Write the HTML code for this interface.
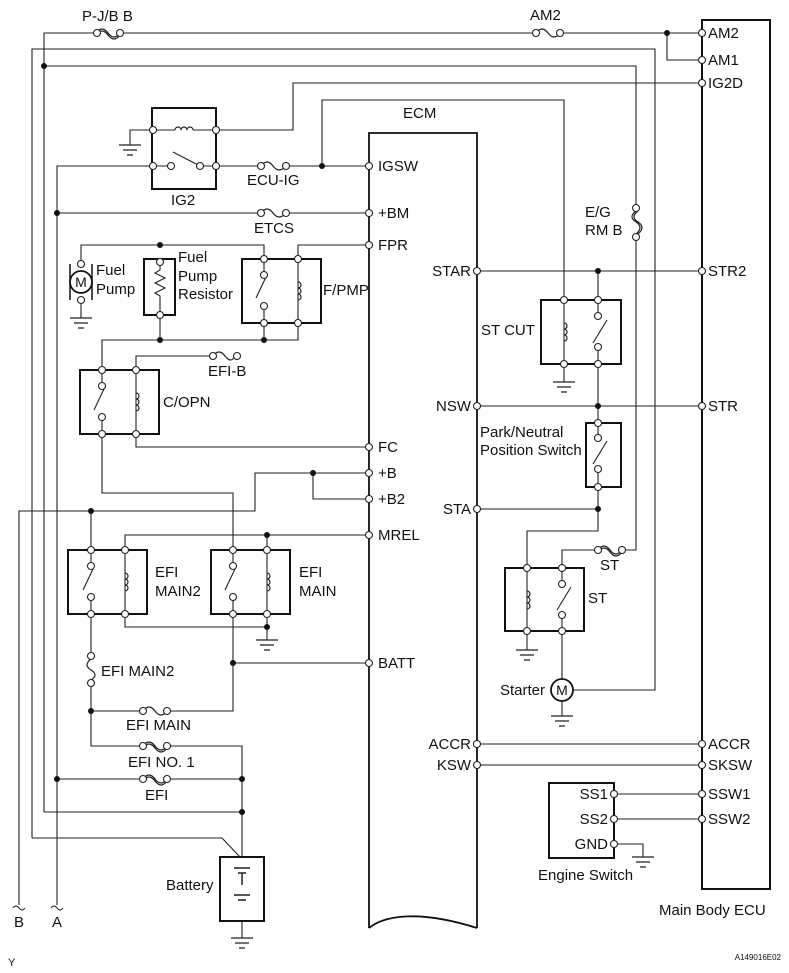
<!DOCTYPE html>
<html><head><meta charset="utf-8"><style>
html,body{margin:0;padding:0;background:#fff}
svg{display:block}
text{font-family:"Liberation Sans",sans-serif;font-size:15px;fill:#111}
</style></head><body>
<svg width="789" height="973" viewBox="0 0 789 973" xmlns="http://www.w3.org/2000/svg">
<g fill="none" stroke="#222" stroke-width="1.1">
<path d="M44 812 V33 H93 M123 33 H533 M563 33 H702"/>
<path d="M667 33 V60 H702"/>
<path d="M32 838 V49 H655 V690 H572"/>
<path d="M44 66 H636 V208 M636 237 V550 H625 M595 550 H562 V568"/>
<path d="M216 130 H293 V83 H702"/>
<path d="M322 166 V100 H564 V300"/>
<path d="M153 130 H175 M193 130 H216"/>
<path d="M153 130 H130 V145"/>
<path d="M57 905 V166 H153 M153 166 H171 M173 152 L200 166 M200 166 H216 H258 M289 166 H369"/>
<path d="M57 213 H258 M289 213 H369"/>
<path d="M81 264 V245 H264 V259"/>
<path d="M81 300 V318"/>
<path d="M160 262 V270 l-5 3 l10 5 l-10 5 l10 5 l-10 5 l5 3 V340"/>
<path d="M298 259 V245 H369"/>
<path d="M264 259 V275 M264 306 V323 M256 298 L266 277"/>
<path d="M298 259 V323"/>
<path d="M264 323 V340 M298 323 V340 H102 V370"/>
<path d="M136 370 V356 H210"/>
<path d="M136 370 V434 V447 H369"/>
<path d="M102 370 V386 M102 417 V434 M94 410 L104 389"/>
<path d="M102 434 V493 H233 V550"/>
<path d="M19 905 V511 H255 V473 H369 M313 473 V499 H369"/>
<path d="M91 511 V550 M91 550 V566 M91 597 V614 M83 590 L93 569"/>
<path d="M125 550 V535 H369 M267 535 V550 M125 550 V614 V627 H267 M267 550 V627 V640"/>
<path d="M233 550 V566 M233 597 V614 M225 590 L235 569"/>
<path d="M91 614 V656 M91 683 V746 H140 M170 746 H242 V857"/>
<path d="M233 614 V711 H170 M140 711 H91"/>
<path d="M233 663 H369"/>
<path d="M57 779 H140 M170 779 H242"/>
<path d="M44 812 H242"/>
<path d="M32 838 H222 L240 857"/>
<path d="M242 921 V938"/>
<path d="M234 868 H250 M238 873 H246 M242 873 V885 M234 895 H250 M238 900 H246" stroke-width="1.5"/>
<path d="M477 271 H702 M598 271 V300"/>
<path d="M564 300 V364 V382"/>
<path d="M598 300 V316 M598 347 V364 M593 343 L607 320"/>
<path d="M598 364 V423 M477 406 H702"/>
<path d="M598 423 V438 M598 469 V487 M593 464 L607 441"/>
<path d="M598 487 V531 H527 V568 M477 509 H598"/>
<path d="M527 568 V631 V650"/>
<path d="M562 568 V584 M562 615 V631 M557 610 L571 587"/>
<path d="M562 631 V680 M562 700 V716"/>
<path d="M477 744 H702 M477 765 H702 M614 794 H702 M614 819 H702 M614 844 H643 V857"/>
</g>
<g fill="none" stroke="#111" stroke-width="2">
<rect x="152" y="108" width="64" height="81"/>
<rect x="144" y="259" width="31" height="56"/>
<rect x="242" y="259" width="79" height="64"/>
<rect x="80" y="370" width="79" height="64"/>
<rect x="68" y="550" width="79" height="64"/>
<rect x="211" y="550" width="79" height="64"/>
<rect x="220" y="857" width="44" height="64"/>
<rect x="541" y="300" width="80" height="64"/>
<rect x="586" y="423" width="35" height="64"/>
<rect x="505" y="568" width="79" height="63"/>
<rect x="549" y="783" width="65" height="75"/>
<rect x="702" y="20" width="68" height="869"/>
<path d="M369 928 V133 H477 V928 M369 928 C385 915 420 910 477 928" stroke-width="1.8"/>
<path d="M70 264 V300 M92 264 V300" stroke-width="1.5"/>
</g>
<g fill="none" stroke="#222" stroke-width="1.2">
<path d="M175 130 a3 3 0 0 1 6 0 a3 3 0 0 1 6 0 a3 3 0 0 1 6 0"/>
<path d="M298 282 a3 3 0 0 1 0 6 a3 3 0 0 1 0 6 a3 3 0 0 1 0 6"/>
<path d="M136 393 a3 3 0 0 1 0 6 a3 3 0 0 1 0 6 a3 3 0 0 1 0 6"/>
<path d="M125 573 a3 3 0 0 1 0 6 a3 3 0 0 1 0 6 a3 3 0 0 1 0 6"/>
<path d="M267 573 a3 3 0 0 1 0 6 a3 3 0 0 1 0 6 a3 3 0 0 1 0 6"/>
<path d="M564 323 a3 3 0 0 1 0 6 a3 3 0 0 1 0 6 a3 3 0 0 1 0 6"/>
<path d="M527 591 a3 3 0 0 1 0 6 a3 3 0 0 1 0 6 a3 3 0 0 1 0 6"/>
<path d="M96 33 Q102 25 108 33 T120 33 M96 35 Q102 27 108 35 T120 35"/>
<path d="M536 33 Q542 25 548 33 T560 33"/>
<path d="M261 166 Q267 158 273 166 T286 166"/>
<path d="M261 213 Q267 205 273 213 T286 213"/>
<path d="M213 356 Q219 348 225 356 T235 356"/>
<path d="M143 711 Q149 703 155 711 T167 711"/>
<path d="M143 746 Q149 738 155 746 T167 746 M143 748 Q149 740 155 748 T167 748"/>
<path d="M143 779 Q149 771 155 779 T167 779 M143 781 Q149 773 155 781 T167 781"/>
<path d="M91 659 Q83 665 91 670 T91 680"/>
<path d="M636 211 Q628 217 636 222 T636 234 M638 211 Q630 217 638 222 T638 234"/>
<path d="M598 550 Q604 542 610 550 T622 550 M598 552 Q604 544 610 552 T622 552"/>
</g>
<g stroke="#222" stroke-width="1.3">
<path d="M119 145 H141 M123 150 H137 M127 155 H133"/>
<path d="M70 318 H92 M74 323 H88 M78 328 H84"/>
<path d="M256 640 H278 M260 645 H274 M264 650 H270"/>
<path d="M231 938 H253 M235 943 H249 M239 948 H245"/>
<path d="M553 382 H575 M557 387 H571 M561 392 H567"/>
<path d="M516 650 H538 M520 655 H534 M524 660 H530"/>
<path d="M551 716 H573 M555 721 H569 M559 726 H565"/>
<path d="M632 857 H654 M636 862 H650 M640 867 H646"/>
</g>
<circle cx="81" cy="282" r="11" fill="#fff" stroke="#111" stroke-width="1.8"/>
<circle cx="562" cy="690" r="11" fill="#fff" stroke="#111" stroke-width="1.8"/>
<text x="81" y="287" text-anchor="middle" style="font-size:14px">M</text>
<text x="562" y="695" text-anchor="middle" style="font-size:14px">M</text>
<g fill="#fff" stroke="#222" stroke-width="1.1">
<circle cx="97" cy="33" r="3.5"/><circle cx="120" cy="33" r="3.5"/>
<circle cx="536" cy="33" r="3.5"/><circle cx="560" cy="33" r="3.5"/>
<circle cx="261" cy="166" r="3.5"/><circle cx="286" cy="166" r="3.5"/>
<circle cx="261" cy="213" r="3.5"/><circle cx="286" cy="213" r="3.5"/>
<circle cx="213" cy="356" r="3.5"/><circle cx="237" cy="356" r="3.5"/>
<circle cx="143" cy="711" r="3.5"/><circle cx="167" cy="711" r="3.5"/>
<circle cx="143" cy="746" r="3.5"/><circle cx="167" cy="746" r="3.5"/>
<circle cx="143" cy="779" r="3.5"/><circle cx="167" cy="779" r="3.5"/>
<circle cx="91" cy="656" r="3.5"/><circle cx="91" cy="683" r="3.5"/>
<circle cx="636" cy="208" r="3.5"/><circle cx="636" cy="237" r="3.5"/>
<circle cx="598" cy="550" r="3.5"/><circle cx="622" cy="550" r="3.5"/>
<circle cx="153" cy="130" r="3.5"/><circle cx="216" cy="130" r="3.5"/>
<circle cx="153" cy="166" r="3.5"/><circle cx="171" cy="166" r="3.5"/><circle cx="200" cy="166" r="3.5"/><circle cx="216" cy="166" r="3.5"/>
<circle cx="81" cy="264" r="3.5"/><circle cx="81" cy="300" r="3.5"/>
<circle cx="160" cy="262" r="3.5"/><circle cx="160" cy="315" r="3.5"/>
<circle cx="264" cy="259" r="3.5"/><circle cx="298" cy="259" r="3.5"/><circle cx="264" cy="275" r="3.5"/><circle cx="264" cy="306" r="3.5"/><circle cx="264" cy="323" r="3.5"/><circle cx="298" cy="323" r="3.5"/>
<circle cx="102" cy="370" r="3.5"/><circle cx="136" cy="370" r="3.5"/><circle cx="102" cy="386" r="3.5"/><circle cx="102" cy="417" r="3.5"/><circle cx="102" cy="434" r="3.5"/><circle cx="136" cy="434" r="3.5"/>
<circle cx="91" cy="550" r="3.5"/><circle cx="125" cy="550" r="3.5"/><circle cx="91" cy="566" r="3.5"/><circle cx="91" cy="597" r="3.5"/><circle cx="91" cy="614" r="3.5"/><circle cx="125" cy="614" r="3.5"/>
<circle cx="233" cy="550" r="3.5"/><circle cx="267" cy="550" r="3.5"/><circle cx="233" cy="566" r="3.5"/><circle cx="233" cy="597" r="3.5"/><circle cx="233" cy="614" r="3.5"/><circle cx="267" cy="614" r="3.5"/>
<circle cx="564" cy="300" r="3.5"/><circle cx="598" cy="300" r="3.5"/><circle cx="598" cy="316" r="3.5"/><circle cx="598" cy="347" r="3.5"/><circle cx="564" cy="364" r="3.5"/><circle cx="598" cy="364" r="3.5"/>
<circle cx="598" cy="423" r="3.5"/><circle cx="598" cy="438" r="3.5"/><circle cx="598" cy="469" r="3.5"/><circle cx="598" cy="487" r="3.5"/>
<circle cx="527" cy="568" r="3.5"/><circle cx="562" cy="568" r="3.5"/><circle cx="562" cy="584" r="3.5"/><circle cx="562" cy="615" r="3.5"/><circle cx="527" cy="631" r="3.5"/><circle cx="562" cy="631" r="3.5"/>
<circle cx="369" cy="166" r="3.5"/><circle cx="369" cy="213" r="3.5"/><circle cx="369" cy="245" r="3.5"/><circle cx="369" cy="447" r="3.5"/><circle cx="369" cy="473" r="3.5"/><circle cx="369" cy="499" r="3.5"/><circle cx="369" cy="535" r="3.5"/><circle cx="369" cy="663" r="3.5"/>
<circle cx="477" cy="271" r="3.5"/><circle cx="477" cy="406" r="3.5"/><circle cx="477" cy="509" r="3.5"/><circle cx="477" cy="744" r="3.5"/><circle cx="477" cy="765" r="3.5"/>
<circle cx="702" cy="33" r="3.5"/><circle cx="702" cy="60" r="3.5"/><circle cx="702" cy="83" r="3.5"/><circle cx="702" cy="271" r="3.5"/><circle cx="702" cy="406" r="3.5"/><circle cx="702" cy="744" r="3.5"/><circle cx="702" cy="765" r="3.5"/><circle cx="702" cy="794" r="3.5"/><circle cx="702" cy="819" r="3.5"/>
<circle cx="614" cy="794" r="3.5"/><circle cx="614" cy="819" r="3.5"/><circle cx="614" cy="844" r="3.5"/>
</g>
<g fill="#111">
<circle cx="44" cy="66" r="3"/><circle cx="667" cy="33" r="3"/><circle cx="322" cy="166" r="3"/>
<circle cx="57" cy="213" r="3"/><circle cx="160" cy="245" r="3"/><circle cx="160" cy="340" r="3"/><circle cx="264" cy="340" r="3"/>
<circle cx="313" cy="473" r="3"/><circle cx="91" cy="511" r="3"/><circle cx="267" cy="535" r="3"/><circle cx="267" cy="627" r="3"/>
<circle cx="233" cy="663" r="3"/><circle cx="91" cy="711" r="3"/><circle cx="57" cy="779" r="3"/><circle cx="242" cy="779" r="3"/><circle cx="242" cy="812" r="3"/>
<circle cx="598" cy="271" r="3"/><circle cx="598" cy="406" r="3"/><circle cx="598" cy="509" r="3"/>
</g>
<g fill="none" stroke="#222" stroke-width="1">
<path d="M13 908 q3 -4 6 0 t6 0"/><path d="M51 908 q3 -4 6 0 t6 0"/>
</g>
<text x="82" y="21">P-J/B B</text>
<text x="530" y="20">AM2</text>
<text x="403" y="118">ECM</text>
<text x="247" y="185">ECU-IG</text>
<text x="171" y="205">IG2</text>
<text x="254" y="233">ETCS</text>
<text x="96" y="275">Fuel</text><text x="96" y="294">Pump</text>
<text x="178" y="262">Fuel</text><text x="178" y="281">Pump</text><text x="178" y="299">Resistor</text>
<text x="323" y="295">F/PMP</text>
<text x="208" y="376">EFI-B</text>
<text x="163" y="407">C/OPN</text>
<text x="155" y="577">EFI</text><text x="155" y="596">MAIN2</text>
<text x="299" y="577">EFI</text><text x="299" y="596">MAIN</text>
<text x="101" y="676">EFI MAIN2</text>
<text x="126" y="730">EFI MAIN</text>
<text x="128" y="767">EFI NO. 1</text>
<text x="145" y="800">EFI</text>
<text x="166" y="890">Battery</text>
<text x="14" y="927">B</text><text x="52" y="927">A</text>
<text x="8" y="966" style="font-size:11px">Y</text>
<text x="378" y="171">IGSW</text><text x="378" y="218">+BM</text><text x="378" y="250">FPR</text>
<text x="378" y="452">FC</text><text x="378" y="478">+B</text><text x="378" y="504">+B2</text>
<text x="378" y="540">MREL</text><text x="378" y="668">BATT</text>
<text x="471" y="276" text-anchor="end">STAR</text>
<text x="471" y="411" text-anchor="end">NSW</text>
<text x="471" y="514" text-anchor="end">STA</text>
<text x="471" y="749" text-anchor="end">ACCR</text>
<text x="471" y="770" text-anchor="end">KSW</text>
<text x="708" y="38">AM2</text><text x="708" y="65">AM1</text><text x="708" y="88">IG2D</text>
<text x="708" y="276">STR2</text><text x="708" y="411">STR</text>
<text x="708" y="749">ACCR</text><text x="708" y="770">SKSW</text><text x="708" y="799">SSW1</text><text x="708" y="824">SSW2</text>
<text x="585" y="217">E/G</text><text x="585" y="235">RM B</text>
<text x="481" y="335">ST CUT</text>
<text x="480" y="437">Park/Neutral</text><text x="480" y="455">Position Switch</text>
<text x="600" y="570">ST</text>
<text x="588" y="603">ST</text>
<text x="500" y="695">Starter</text>
<text x="608" y="799" text-anchor="end">SS1</text>
<text x="608" y="824" text-anchor="end">SS2</text>
<text x="608" y="849" text-anchor="end">GND</text>
<text x="538" y="880">Engine Switch</text>
<text x="659" y="915">Main Body ECU</text>
<text x="781" y="960" text-anchor="end" style="font-size:8px">A149016E02</text>
</svg>
</body></html>
